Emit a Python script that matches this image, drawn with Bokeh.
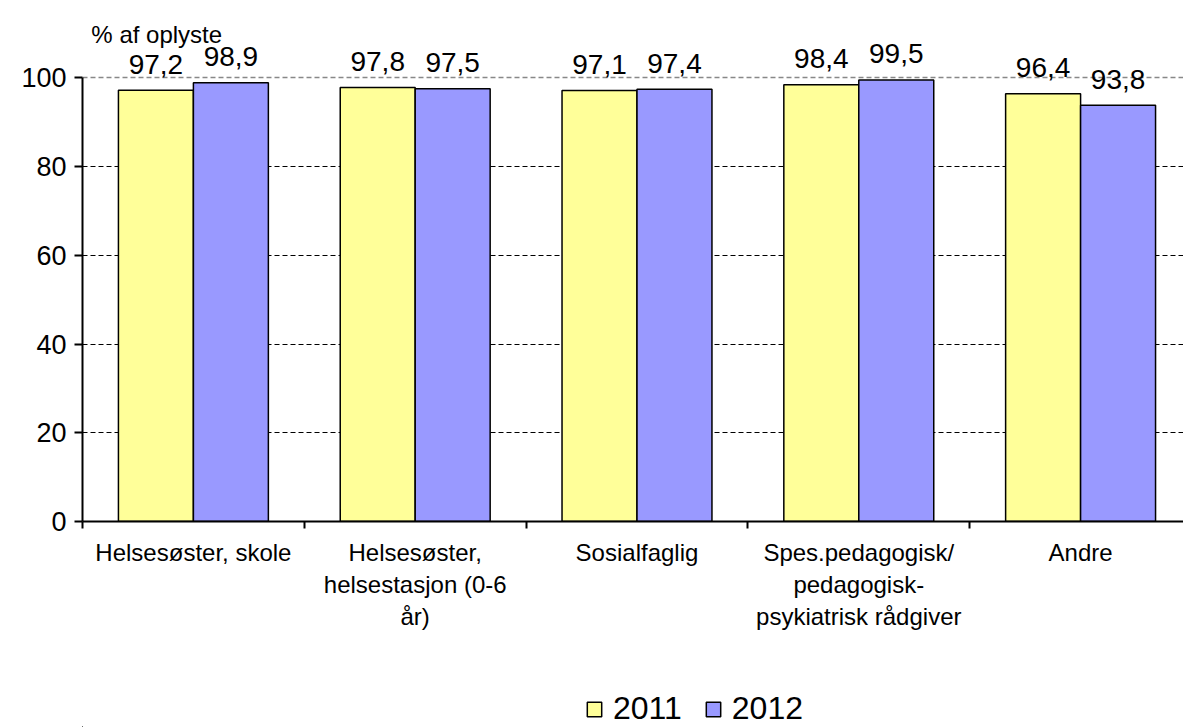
from bokeh.plotting import figure
from bokeh.layouts import column
from bokeh.models import (ColumnDataSource, FixedTicker, Range1d, Grid, Legend, LegendItem, Label)
from bokeh.core.properties import value
from bokeh.embed import file_html
from bokeh.resources import INLINE

categories = ["Helsesøster, skole", "Helsesøster,\nhelsestasjon (0-6\når)", "Sosialfaglig",
              "Spes.pedagogisk/\npedagogisk-\npsykiatrisk rådgiver", "Andre"]
years = ["2011", "2012"]
values_2011 = [97.2, 97.8, 97.1, 98.4, 96.4]
values_2012 = [98.9, 97.5, 97.4, 99.5, 93.8]
y_ticks = [0, 20, 40, 60, 80, 100]
y_title = "% af oplyste"

FONT = "Liberation Sans"
colors = ["#FFFF99", "#9999FF"]
bar_w = 0.338

p = figure(width=1183, height=667, output_backend="svg", toolbar_location=None,
           x_range=Range1d(0, 4.964), y_range=Range1d(0, 112),
           min_border_left=82, min_border_right=0, min_border_top=24, min_border_bottom=146)
p.outline_line_color = None
p.background_fill_color = "white"
p.border_fill_color = "white"

# legend strip below the chart (frame aligned with the main chart's frame);
# its ranges lie away from the data, so only the legend is visible there
p2 = figure(width=1183, height=60, output_backend="svg", toolbar_location=None,
            x_range=Range1d(6, 7), y_range=Range1d(200, 201),
            x_axis_type=None, y_axis_type=None,
            min_border_left=82, min_border_right=0, min_border_top=0, min_border_bottom=0)
p2.outline_line_color = None
p2.grid.visible = False

centers = [i + 0.5 for i in range(len(categories))]
swatches = []
for k, (vals, col) in enumerate(zip([values_2011, values_2012], colors)):
    off = -bar_w / 2 if k == 0 else bar_w / 2
    src = ColumnDataSource(dict(x=[c + off for c in centers], top=vals,
                                lab=[f"{v:.1f}".replace(".", ",") for v in vals]))
    p.vbar(x="x", top="top", width=bar_w, bottom=0, source=src,
           fill_color=col, line_color="black", line_width=1.5)
    p.text(x="x", y="top", text="lab", source=src, text_align="center",
           text_baseline="alphabetic", y_offset=-26, text_font=value(FONT),
           text_font_size="28px", text_color="black")
    swatches.append(p2.vbar(x="x", top="top", width=bar_w, bottom=0, source=src,
                            fill_color=col, line_color="black", line_width=1.5))

# grids
p.xgrid.visible = False
p.ygrid.ticker = FixedTicker(ticks=[20, 40, 60, 80])
p.ygrid.grid_line_color = "black"
p.ygrid.grid_line_dash = "5 3"
p.ygrid.grid_line_width = 1
top_grid = Grid(dimension=1, ticker=FixedTicker(ticks=[100]), grid_line_color="#888888",
                grid_line_dash="5 3", grid_line_width=1.5)
p.add_layout(top_grid)

# y axis
ya = p.yaxis[0]
ya.ticker = FixedTicker(ticks=y_ticks)
ya.bounds = (0, 100)
ya.axis_line_width = 2
ya.major_tick_line_width = 2
ya.major_tick_out = 8
ya.major_tick_in = 0
ya.minor_tick_line_color = None
ya.major_label_standoff = 8
ya.major_label_text_font = FONT
ya.major_label_text_font_size = "27px"
ya.major_label_text_color = "black"

# x axis
xa = p.xaxis[0]
xa.ticker = FixedTicker(ticks=centers, minor_ticks=[0, 1, 2, 3, 4, 5])
xa.major_label_overrides = {c: cat for c, cat in zip(centers, categories)}
xa.major_tick_line_color = None
xa.major_tick_out = 0
xa.major_tick_in = 0
xa.minor_tick_out = 7
xa.minor_tick_in = 0
xa.minor_tick_line_width = 2
xa.axis_line_width = 2
xa.major_label_standoff = 10
xa.major_label_text_font = FONT
xa.major_label_text_font_size = "24px"
xa.major_label_text_color = "black"

p.add_layout(Label(x=0.04, y=109.8, text=y_title, text_font=FONT, text_font_size="24px",
                   text_color="black", text_baseline="alphabetic"))

legend = Legend(items=[LegendItem(label=y, renderers=[r]) for y, r in zip(years, swatches)],
                orientation="horizontal", location=(503, 0),
                label_text_font=FONT, label_text_font_size="32px", label_text_color="black",
                glyph_width=18, glyph_height=18, label_standoff=10, spacing=22,
                padding=0, margin=0, border_line_color=None, background_fill_alpha=0)
p2.add_layout(legend, "center")

open("out.html", "w").write(file_html(column(p, p2, spacing=0), INLINE))
